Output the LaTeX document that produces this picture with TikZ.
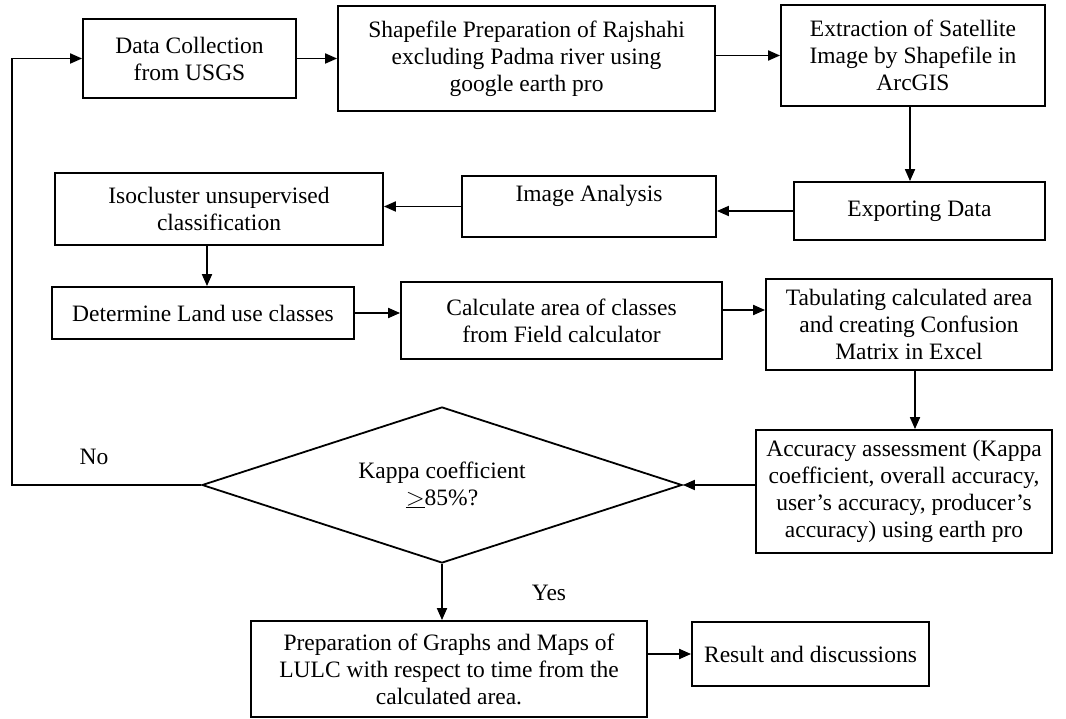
\documentclass[tikz,border=0pt]{standalone}
\usepackage{fontspec}
\setmainfont{Liberation Serif}
\usetikzlibrary{arrows.meta, positioning, shapes.geometric}
\tikzset{
  box/.style={draw, line width=1.8pt, align=center, inner sep=2pt},
  decision/.style={draw, diamond, aspect=3, line width=1.8pt, align=center, inner sep=0pt},
  arrow/.style={-{Triangle[length=12pt, width=10pt]}, line width=1.8pt},
  answer/.style={inner sep=0pt},
  every node/.style={font=\fontsize{23.5}{27}\selectfont}
}

\begin{document}
\begin{tikzpicture}[x=1pt, y=-1pt]
    \useasboundingbox (0,0) rectangle (1066,719);

    \node[box, minimum width=213pt, minimum height=79pt] (collect) at (189.5,58.5) {Data Collection\\from USGS};
    \node[box, minimum width=377pt, minimum height=105pt] (shape) at (526.5,58.5) {Shapefile Preparation of Rajshahi\\excluding Padma river using\\google earth pro};
    \node[box, minimum width=264pt, minimum height=101pt] (extract) at (913,55.5) {Extraction of Satellite\\Image by Shapefile in\\ArcGIS};
    \node[box, minimum width=251pt, minimum height=58pt] (export) at (919.5,211) {Exporting Data};
    \node[box, minimum width=254pt, minimum height=61pt] (image) at (589,206.5) {Image Analysis\\~};
    \node[box, minimum width=328pt, minimum height=72pt] (iso) at (219,209) {Isocluster unsupervised\\classification};
    \node[box, minimum width=302pt, minimum height=52pt] (classes) at (203,313) {Determine Land use classes};
    \node[box, minimum width=321pt, minimum height=77pt] (area) at (561.5,320.5) {Calculate area of classes\\from Field calculator};
    \node[box, minimum width=286pt, minimum height=91pt] (table) at (909,324.5) {Tabulating calculated area\\and creating Confusion\\Matrix in Excel};
    \node[box, minimum width=296pt, minimum height=123pt] (accuracy) at (904,491.5) {Accuracy assessment (Kappa\\coefficient, overall accuracy,\\user’s accuracy, producer’s\\accuracy) using earth pro};
    \node[decision, minimum width=480pt, minimum height=156pt] (kappa) at (442,485) {Kappa coefficient\\$\underline{>}$85\%?};
    \node[box, minimum width=396pt, minimum height=96pt] (maps) at (449,669) {Preparation of Graphs and Maps of\\LULC with respect to time from the\\calculated area.};
    \node[box, minimum width=237pt, minimum height=64pt] (result) at (810.5,654) {Result and discussions};

    \node[answer] (no) at (94,457) {No};
    \node[answer] (yes) at (549,593) {Yes};
    \coordinate (loop) at (12,485);

    \draw[arrow] (collect) -- (shape);
    \draw[arrow] (shape.east |- extract.west) -- (extract.west);
    \draw[arrow] (extract.south -| 910,0) -- (export.north -| 910,0);
    \draw[arrow] (export.west) -- (export.west -| image.east);
    \draw[arrow] (image.west) -- (image.west -| iso.east);
    \draw[arrow] (iso.south -| 207,0) -- (classes.north -| 207,0);
    \draw[arrow] (classes.east) -- (classes.east -| area.west);
    \draw[arrow] (area.east |- 0,310) -- (table.west |- 0,310);
    \draw[arrow] (table.south -| 915,0) -- (accuracy.north -| 915,0);
    \draw[arrow] (accuracy.west |- kappa.east) -- (kappa.east);
    \draw[arrow] (kappa.west) -- (kappa.west -| loop) |- (collect.west);
    \draw[arrow] (kappa.south) -- (kappa.south |- maps.north);
    \draw[arrow] (maps.east |- result.west) -- (result.west);
\end{tikzpicture}
\end{document}
